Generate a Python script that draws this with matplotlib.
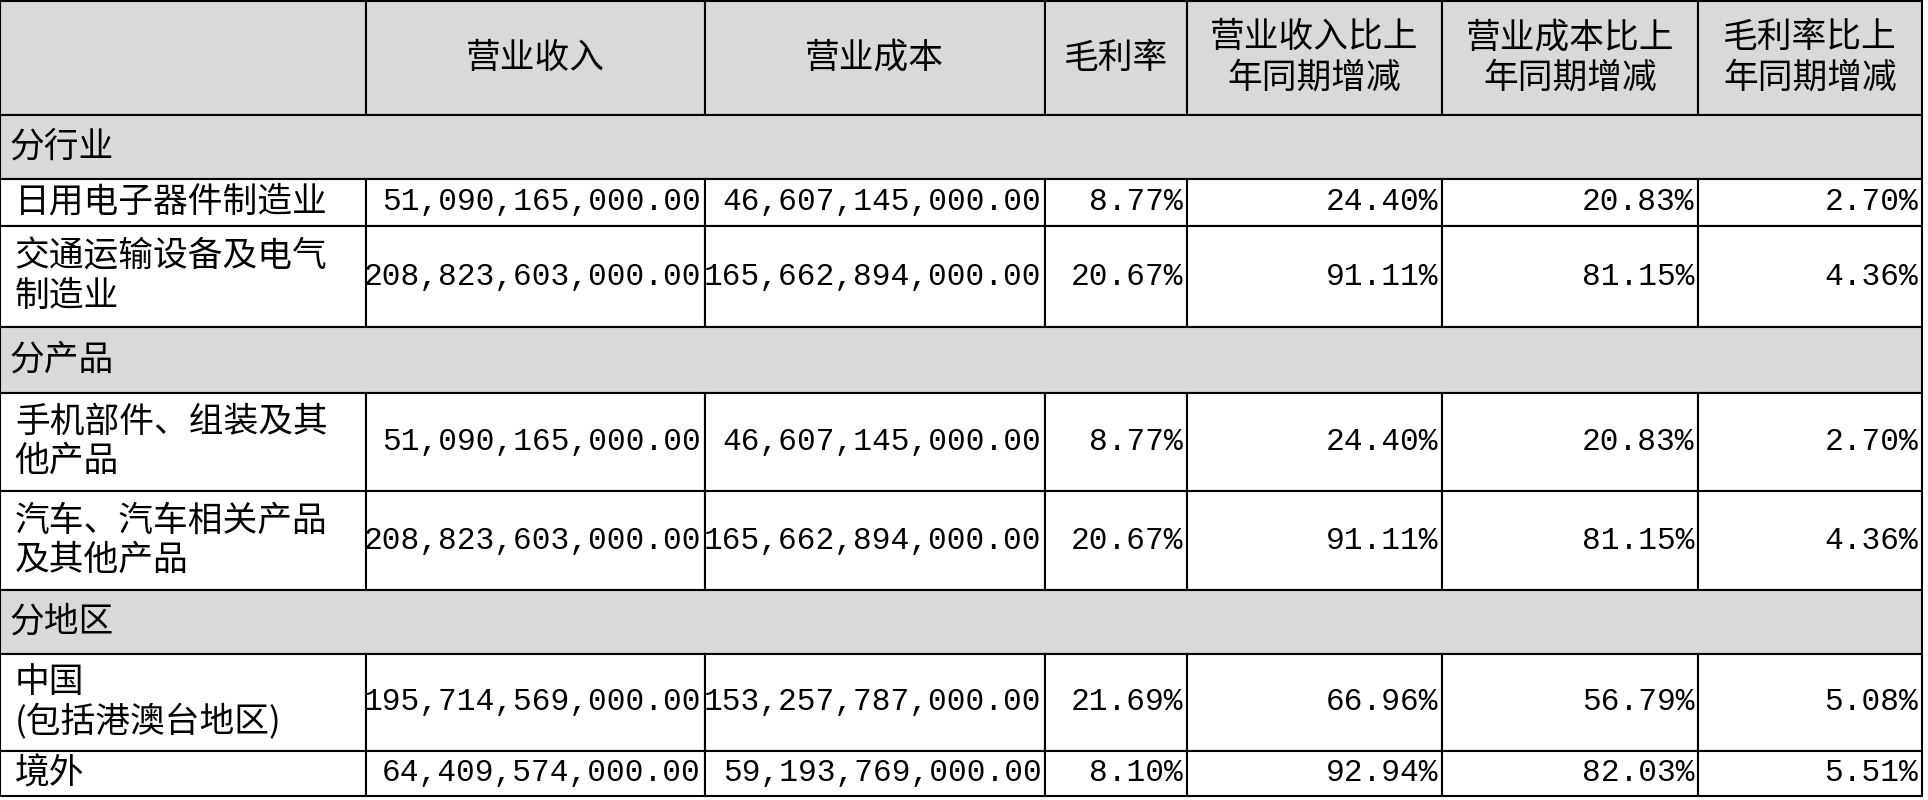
import matplotlib
matplotlib.use("Agg")
import matplotlib.pyplot as plt
from matplotlib.patches import Rectangle

plt.rcParams['font.family'] = ['Noto Sans CJK SC', 'DejaVu Sans']

headers = ["", "营业收入", "营业成本", "毛利率", "营业收入比上\n年同期增减", "营业成本比上\n年同期增减", "毛利率比上\n年同期增减"]
sections = ["分行业", "分产品", "分地区"]
labels = [["日用电子器件制造业", "交通运输设备及电气\n制造业"],
          ["手机部件、组装及其\n他产品", "汽车、汽车相关产品\n及其他产品"],
          ["中国\n(包括港澳台地区)", "境外"]]
revenue = [["51,090,165,000.00", "208,823,603,000.00"],
           ["51,090,165,000.00", "208,823,603,000.00"],
           ["195,714,569,000.00", "64,409,574,000.00"]]
cost = [["46,607,145,000.00", "165,662,894,000.00"],
        ["46,607,145,000.00", "165,662,894,000.00"],
        ["153,257,787,000.00", "59,193,769,000.00"]]
margin = [["8.77%", "20.67%"], ["8.77%", "20.67%"], ["21.69%", "8.10%"]]
rev_chg = [["24.40%", "91.11%"], ["24.40%", "91.11%"], ["66.96%", "92.94%"]]
cost_chg = [["20.83%", "81.15%"], ["20.83%", "81.15%"], ["56.79%", "82.03%"]]
mar_chg = [["2.70%", "4.36%"], ["2.70%", "4.36%"], ["5.08%", "5.51%"]]

W, H = 1568, 648
cols = [0, 298, 573, 850, 965, 1173, 1381, 1563]
row_bounds = [[(145, 183), (183, 265)], [(318, 398), (398, 478)], [(530, 608), (608, 645)]]
sec_bounds = [(93, 145), (265, 318), (478, 530)]
head = (1, 93)

fig = plt.figure(figsize=(19.28, 8), dpi=100)
ax = fig.add_axes([0, 0, 1, 1])
ax.set_xlim(0, W); ax.set_ylim(H, 0); ax.axis('off')
gray = '#d9d9d9'
fs = 25
fn = 22.5

def rect(x0, y0, x1, y1, fc):
    ax.add_patch(Rectangle((x0, y0), x1 - x0, y1 - y0, facecolor=fc, edgecolor='black', lw=1.5))

for i in range(7):
    rect(cols[i], head[0], cols[i+1], head[1], gray)
    ax.text((cols[i] + cols[i+1]) / 2, (head[0] + head[1]) / 2, headers[i], ha='center', va='center',
            fontsize=fs, linespacing=1.2)

for s in range(3):
    y0, y1 = sec_bounds[s]
    rect(cols[0], y0, cols[-1], y1, gray)
    ax.text(8, (y0 + y1) / 2, sections[s], ha='left', va='center', fontsize=fs)
    for r in range(2):
        y0, y1 = row_bounds[s][r]
        for i in range(7):
            rect(cols[i], y0, cols[i+1], y1, 'white')
        yc = (y0 + y1) / 2
        ax.text(12, yc, labels[s][r], ha='left', va='center', fontsize=fs, linespacing=1.15)
        vals = [revenue[s][r], cost[s][r], margin[s][r], rev_chg[s][r], cost_chg[s][r], mar_chg[s][r]]
        for i, v in enumerate(vals):
            ax.text(cols[i+2] - 3, yc, v, ha='right', va='center', fontsize=fn,
                    family=['Liberation Mono', 'DejaVu Sans Mono'])

fig.savefig('out.png', dpi=100)
